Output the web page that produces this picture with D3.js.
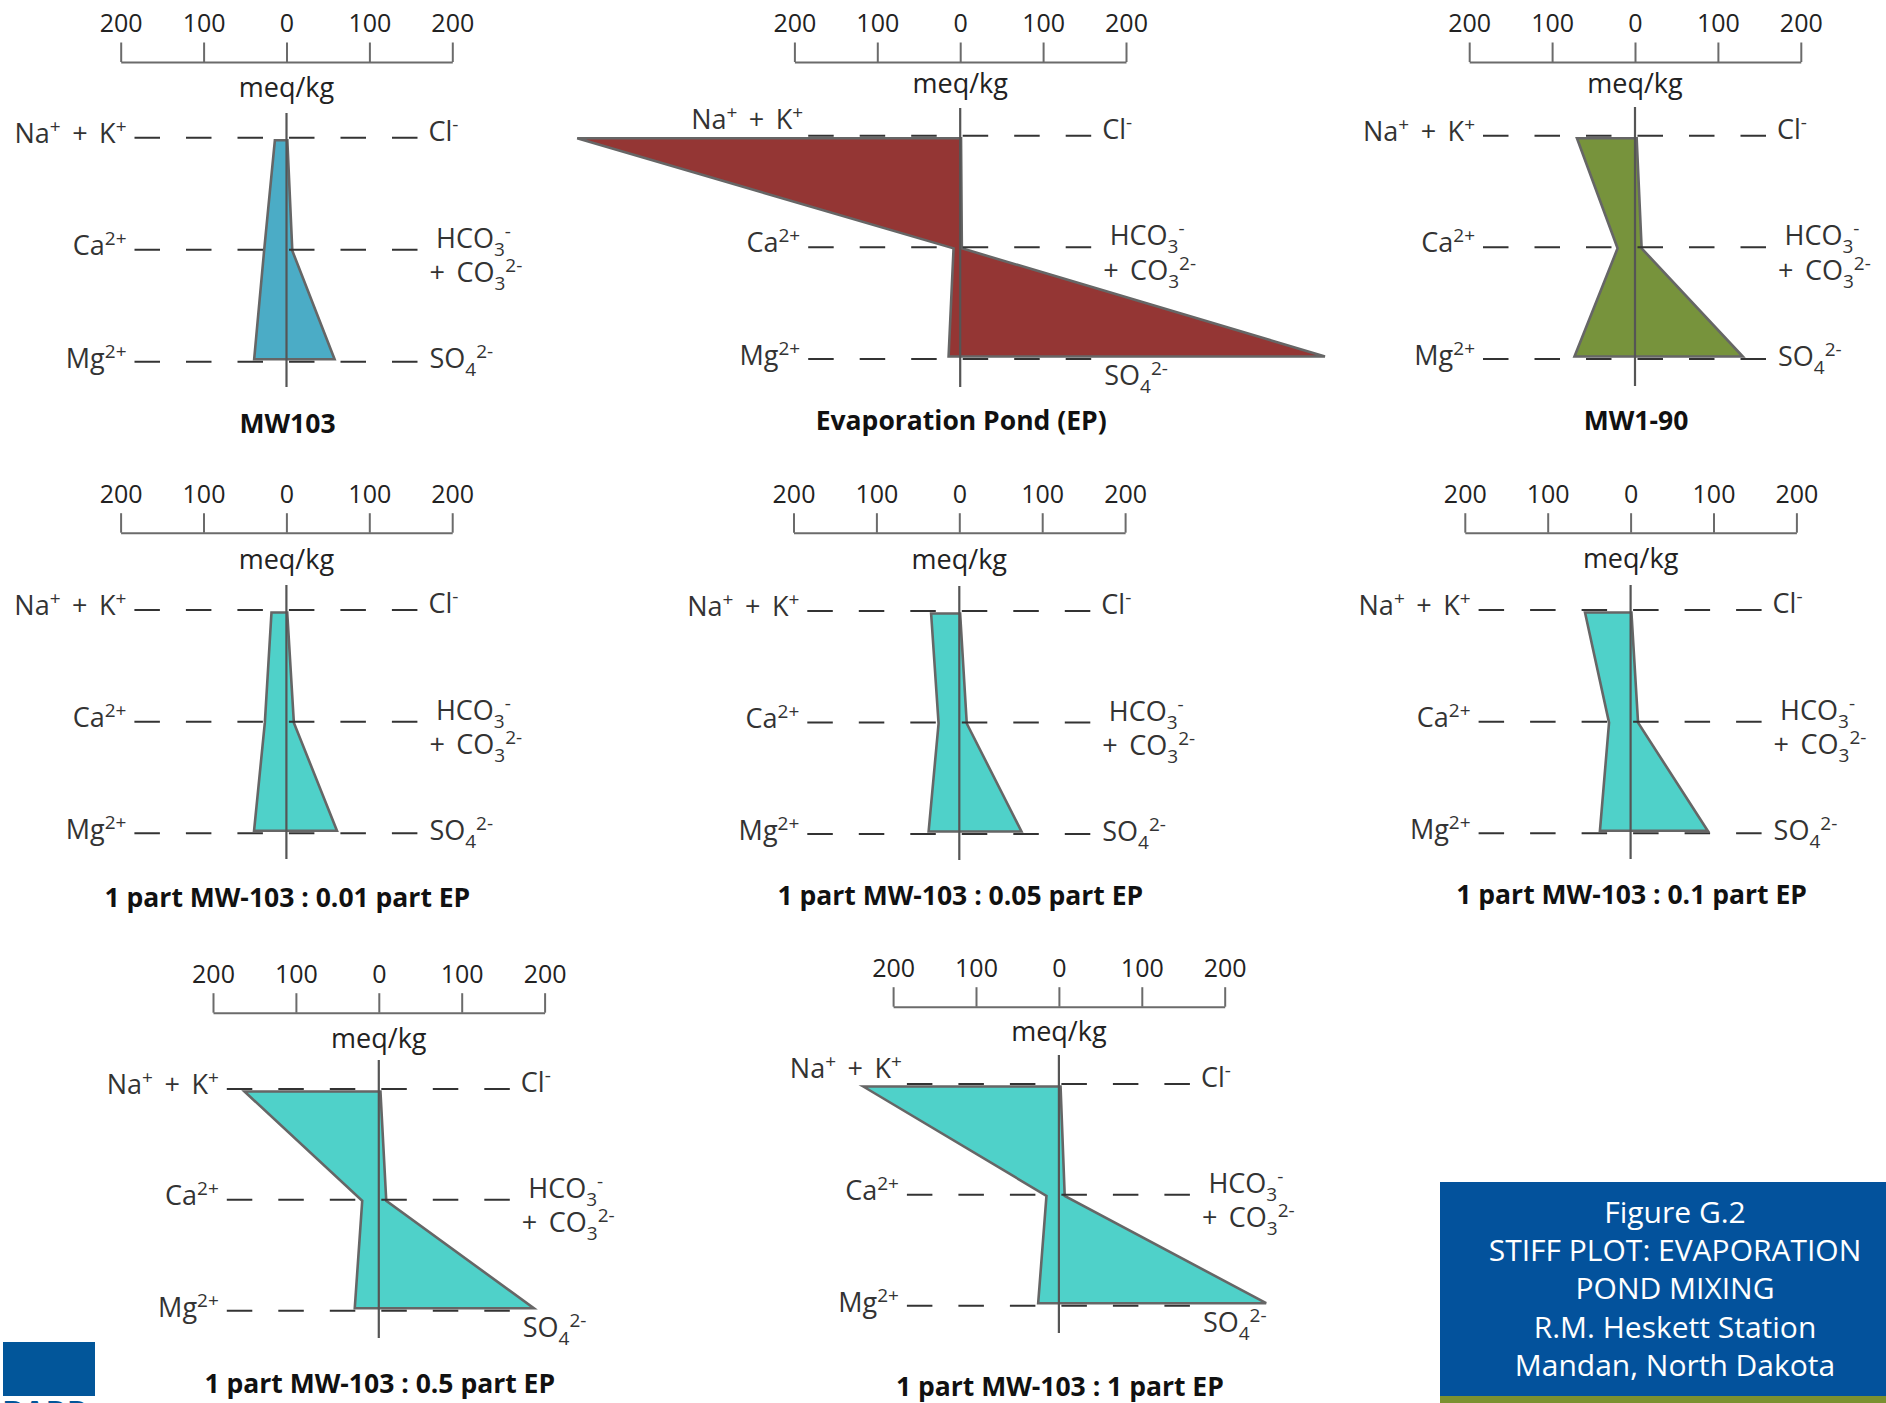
<!DOCTYPE html>
<html><head><meta charset="utf-8">
<script src="https://cdn.jsdelivr.net/npm/d3@7"></script>
<style>
html,body{margin:0;padding:0;background:#fff;}
svg{display:block;font-family:"Open Sans",sans-serif;}
</style></head>
<body>
<svg id="chart" width="1886" height="1403"></svg>
<script>
// ---------- data ----------
const ions = ["Na", "Ca", "Mg"];
const tickValues = [-200, -100, 0, 100, 200];
const panelTitles = ["MW103", "Evaporation Pond (EP)", "MW1-90",
  "1 part MW-103 : 0.01 part EP", "1 part MW-103 : 0.05 part EP", "1 part MW-103 : 0.1 part EP",
  "1 part MW-103 : 0.5 part EP", "1 part MW-103 : 1 part EP"];
// cations (Na+K, Ca, Mg) plotted left, meq/kg
const cationValues = [
  [14, 27, 39],
  [462, 8, 14],
  [70, 21, 73],
  [18, 26, 39],
  [34, 25, 37],
  [55, 26, 37],
  [162, 20, 29],
  [236, 15, 25]
];
// anions (Cl, HCO3+CO3, SO4) plotted right, meq/kg
const anionValues = [
  [1, 7, 58],
  [1, 2, 440],
  [2, 8, 130],
  [1, 9, 61],
  [1, 9, 75],
  [1, 9, 93],
  [2, 9, 187],
  [2, 7, 250]
];
const fillColors = ["#4BACC6", "#943634", "#77933C", "#4FD1C9", "#4FD1C9", "#4FD1C9", "#4FD1C9", "#4FD1C9"];
const figureLines = ["Figure G.2", "STIFF PLOT: EVAPORATION", "POND MIXING", "R.M. Heskett Station", "Mandan, North Dakota"];

// ---------- layout ----------
const layout = [
  {x0: 286.5, ay: 62,    na: 137.7, mg: 361.7, lt: 113,  lb: 387,  ty: 433,   my: 35},
  {x0: 960.2, ay: 62,    na: 135.7, mg: 359,   lt: 108,  lb: 387,  ty: 430,   my: 31, naAbove: true, so4Below: true},
  {x0: 1635,  ay: 62,    na: 135.7, mg: 359,   lt: 107,  lb: 386,  ty: 430,   my: 31},
  {x0: 286.4, ay: 532.7, na: 610,   mg: 833.3, lt: 585,  lb: 859,  ty: 907,   my: 36},
  {x0: 959.3, ay: 532.7, na: 611,   mg: 834,   lt: 586,  lb: 860,  ty: 905,   my: 36},
  {x0: 1630.6,ay: 532.7, na: 610,   mg: 833.3, lt: 585,  lb: 859,  ty: 904,   my: 35},
  {x0: 378.8, ay: 1012.7,na: 1089,  mg: 1310.7,lt: 1060, lb: 1338, ty: 1393,  my: 35, so4Below: true},
  {x0: 1058.9,ay: 1006.7,na: 1084,  mg: 1305.7,lt: 1055, lb: 1333, ty: 1396,  my: 34, naAbove: true, so4Below: true}
];
const HALF = 165.8; // px for 200 meq/kg
const TXT = "#333";
const FS = 27;

const svg = d3.select("#chart");

function rich(sel, parts, size) {
  const small = Math.round(size * 0.7);
  let shift = 0;
  parts.forEach(p => {
    const target = p.sup ? -10 : (p.sub ? 8 : 0);
    sel.append("tspan").text(p.t).attr("dy", target - shift)
      .attr("font-size", (p.sup || p.sub) ? small : size);
    shift = target;
  });
}

const GAP = "\u00a0\u2009";
const labNa = [{t: "Na"}, {t: "+", sup: 1}, {t: GAP + "+" + GAP + "K"}, {t: "+", sup: 1}];
const labCa = [{t: "Ca"}, {t: "2+", sup: 1}];
const labMg = [{t: "Mg"}, {t: "2+", sup: 1}];
const labCl = [{t: "Cl"}, {t: "-", sup: 1}];
const labHCO = [{t: "HCO"}, {t: "3", sub: 1}, {t: "-", sup: 1}];
const labCO = [{t: "+" + GAP + "CO"}, {t: "3", sub: 1}, {t: "2-", sup: 1}];
const labSO = [{t: "SO"}, {t: "4", sub: 1}, {t: "2-", sup: 1}];

layout.forEach((L, i) => {
  const g = svg.append("g");
  const x = d3.scaleLinear().domain([-200, 200]).range([L.x0 - HALF, L.x0 + HALF]);
  const y = d3.scalePoint().domain(ions).range([L.na, L.mg]);
  const polyOff = {Na: 2.5, Ca: 1, Mg: -2.5};

  // axis
  const ax = g.append("g").attr("transform", `translate(0,${L.ay})`)
    .call(d3.axisTop(x).tickValues(tickValues).tickFormat(d => Math.abs(d))
      .tickSize(19.5).tickSizeOuter(0).tickPadding(10.5));
  ax.select(".domain").attr("stroke", "#6b6b6b").attr("stroke-width", 2);
  ax.selectAll(".tick line").attr("stroke", "#6b6b6b").attr("stroke-width", 2);
  ax.selectAll(".tick text").attr("font-size", 25).attr("fill", "#222")
    .attr("font-family", "Open Sans");
  g.append("text").attr("x", x(0)).attr("y", L.ay + L.my).attr("text-anchor", "middle")
    .attr("font-size", 27).attr("fill", "#222").text("meq/kg");

  // polygon
  const pts = [];
  ions.forEach((k, j) => pts.push([x(-cationValues[i][j]), y(k) + polyOff[k]]));
  for (let j = ions.length - 1; j >= 0; j--) pts.push([x(anionValues[i][j]), y(ions[j]) + polyOff[ions[j]]]);
  g.append("path").attr("d", d3.line()(pts) + "Z")
    .attr("fill", fillColors[i]).attr("stroke", "#666").attr("stroke-width", 2.6)
    .attr("stroke-linejoin", "miter");

  // dashed rows
  ions.forEach(k => {
    g.append("line").attr("x1", L.x0 - 152).attr("x2", L.x0 + 131)
      .attr("y1", y(k)).attr("y2", y(k))
      .attr("stroke", "#333").attr("stroke-width", 2).attr("stroke-dasharray", "25.5 26");
  });

  // center line
  g.append("line").attr("x1", x(0)).attr("x2", x(0)).attr("y1", L.lt).attr("y2", L.lb)
    .attr("stroke", "#555").attr("stroke-width", 2.2);

  // left labels
  const tNa = g.append("text").attr("text-anchor", "end").attr("fill", TXT).attr("font-size", FS)
    .attr("x", L.naAbove ? L.x0 - 157 : L.x0 - 160)
    .attr("y", L.naAbove ? y("Na") - 6.5 : y("Na") + 5);
  rich(tNa, labNa, FS);
  const tCa = g.append("text").attr("text-anchor", "end").attr("fill", TXT).attr("font-size", FS)
    .attr("x", L.x0 - 160).attr("y", y("Ca") + 5);
  rich(tCa, labCa, FS);
  const tMg = g.append("text").attr("text-anchor", "end").attr("fill", TXT).attr("font-size", FS)
    .attr("x", L.x0 - 160).attr("y", y("Mg") + 6);
  rich(tMg, labMg, FS);

  // right labels
  const tCl = g.append("text").attr("fill", TXT).attr("font-size", FS)
    .attr("x", L.x0 + 142).attr("y", y("Na") + 3);
  rich(tCl, labCl, FS);
  const tH = g.append("text").attr("fill", TXT).attr("font-size", FS)
    .attr("x", L.x0 + 149.5).attr("y", y("Ca") - 2);
  rich(tH, labHCO, FS);
  const tC = g.append("text").attr("fill", TXT).attr("font-size", FS)
    .attr("x", L.x0 + 143).attr("y", y("Ca") + 32.5);
  rich(tC, labCO, FS);
  const tS = g.append("text").attr("fill", TXT).attr("font-size", FS)
    .attr("x", L.so4Below ? L.x0 + 144 : L.x0 + 143)
    .attr("y", L.so4Below ? y("Mg") + 26 : y("Mg") + 6.5);
  rich(tS, labSO, FS);

  // title
  g.append("text").attr("x", L.x0 + 1).attr("y", L.ty).attr("text-anchor", "middle")
    .attr("font-size", 26.5).attr("font-weight", "bold").attr("fill", "#111")
    .text(panelTitles[i]);
});

// figure box
svg.append("rect").attr("x", 1440).attr("y", 1182).attr("width", 446).attr("height", 214).attr("fill", "#03529C");
svg.append("rect").attr("x", 1440).attr("y", 1396).attr("width", 446).attr("height", 7).attr("fill", "#7B9130");
const fy = d3.scaleLinear().domain([0, figureLines.length - 1]).range([1222.7, 1376]);
svg.selectAll("text.fig").data(figureLines).join("text").attr("class", "fig")
  .attr("x", 1675).attr("y", (d, i) => fy(i)).attr("text-anchor", "middle")
  .attr("font-size", 30).attr("fill", "#fff").text(d => d);

// logo fragment
svg.append("rect").attr("x", 3).attr("y", 1342).attr("width", 92).attr("height", 54).attr("fill", "#02569A");
svg.append("text").attr("x", 2).attr("y", 1424).attr("font-size", 32).attr("font-weight", "bold")
  .attr("fill", "#02569A").text("BARR");
</script>
</body></html>
